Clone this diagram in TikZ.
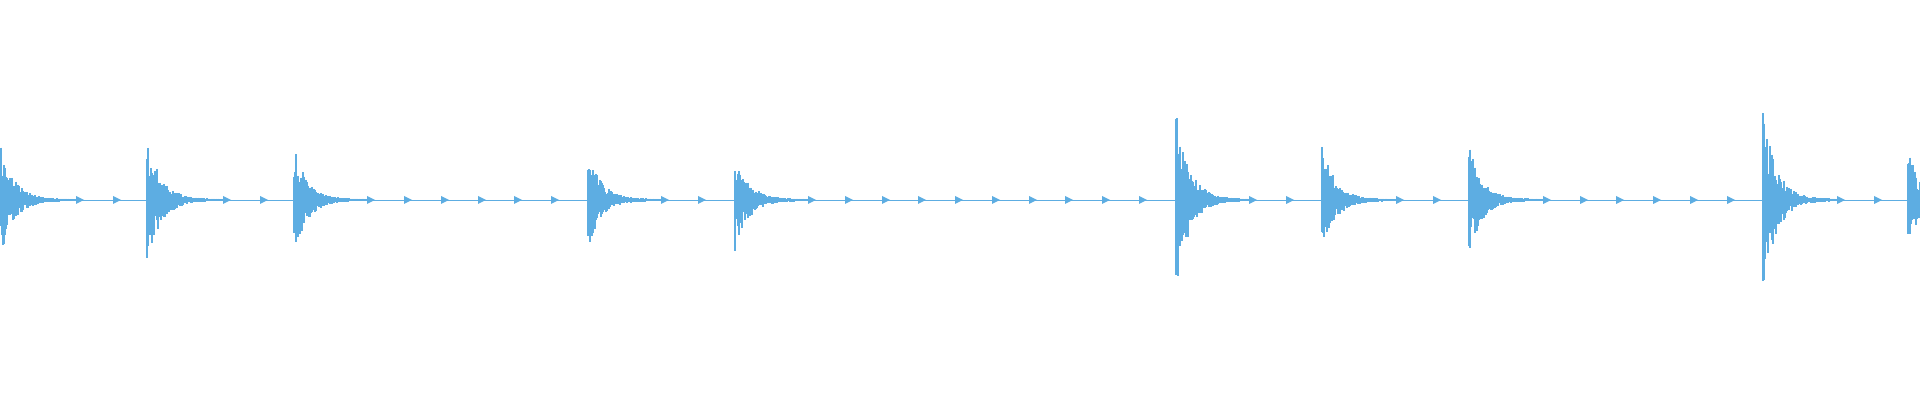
\documentclass[tikz,border=0pt]{standalone}
\usepackage{tikz}
\definecolor{wavecol}{RGB}{93,173,226}
\tikzset{wave/.style={draw=wavecol,line width=0.3pt},
  baseline/.style={draw=wavecol,line width=0.15pt},
  blip/.style={fill=wavecol,draw=none}}
\begin{document}
\begin{tikzpicture}[x=0.01cm,y=0.01cm]
\useasboundingbox (0,0) rectangle (1920,400);
\pgfmathsetseed{7}
\draw[baseline] (0,200) -- (1920,200);
% big hits
\foreach \bx/\amp in {1/56,147/68,294/56,588/52,735/50,1176/92,1322/56,1469/56,1763/94,1908/50} {
  \foreach \t in {0,...,75} {
    \pgfmathsetmacro\h{\amp*exp(-\t/13)*(0.35+0.65*rnd)+1}
    \pgfmathsetmacro\d{\amp*exp(-\t/13)*(0.35+0.65*rnd)+1}
    \draw[wave] (\bx+\t,200+\h) -- (\bx+\t,200-\d);
  }
}
% small hits
\foreach \sx in {76,113,223,260,367,404,441,478,514,551,661,698,808,845,882,918,955,992,1029,1065,1102,1139,1249,1286,1396,1433,1543,1580,1616,1653,1690,1727,1837,1874} {
  \fill[blip] (\sx,196) -- (\sx+8,200) -- (\sx,204) -- cycle;
}
\end{tikzpicture}
\end{document}
